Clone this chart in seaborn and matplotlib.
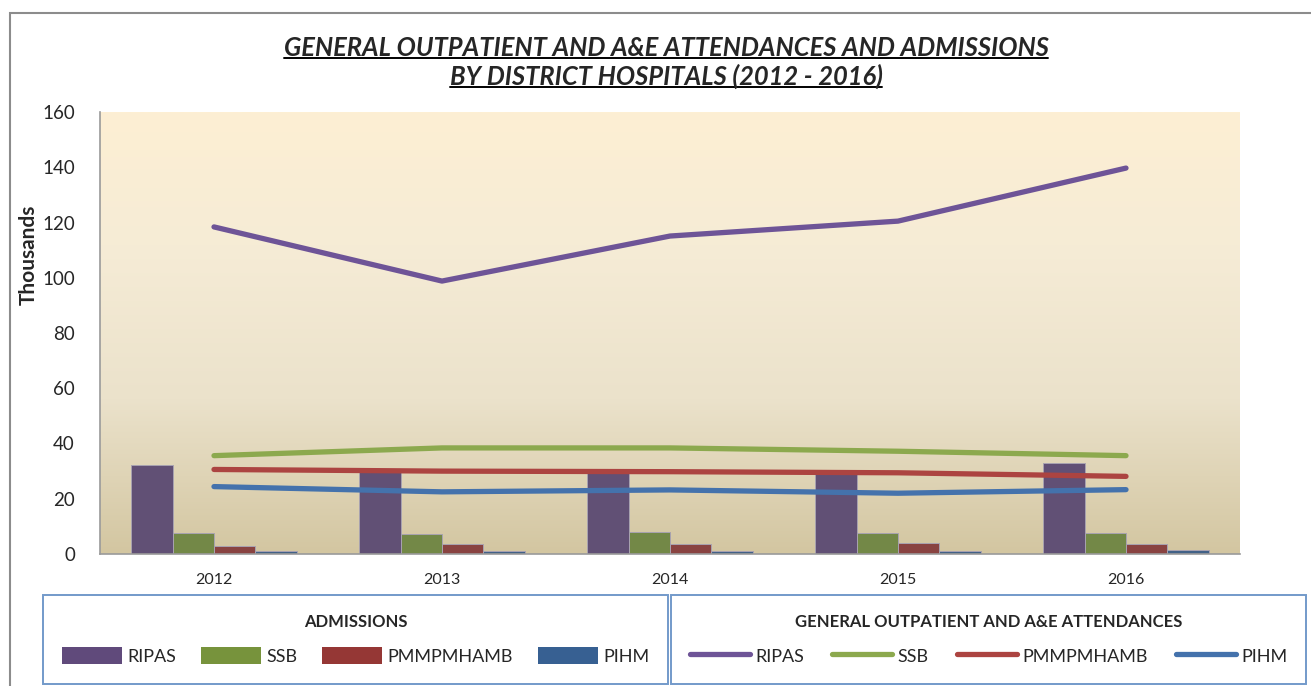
import numpy as np
import pandas as pd
import seaborn as sns
import matplotlib.pyplot as plt
from matplotlib.patches import Rectangle, Patch
from matplotlib.lines import Line2D
from matplotlib.colors import LinearSegmentedColormap

years = ["2012", "2013", "2014", "2015", "2016"]
hospitals = ["RIPAS", "SSB", "PMMPMHAMB", "PIHM"]

# admissions (thousands) - bars
adm_ripas = [32.2, 30.0, 30.0, 30.4, 32.8]
adm_ssb = [7.6, 7.1, 7.8, 7.6, 7.7]
adm_pmm = [2.9, 3.6, 3.6, 3.9, 3.6]
adm_pihm = [1.2, 1.0, 1.2, 1.1, 1.3]

# general outpatient and A&E attendances (thousands) - lines
att_ripas = [118.4, 98.8, 115.1, 120.5, 139.7]
att_ssb = [35.6, 38.4, 38.4, 37.2, 35.6]
att_pmm = [30.6, 30.0, 29.8, 29.4, 28.1]
att_pihm = [24.4, 22.5, 23.2, 22.0, 23.3]

bar_colors = ["#604a7b", "#77933c", "#953735", "#376092"]
line_colors = ["#6e5497", "#8ca94e", "#ac4441", "#4472ac"]

adm = pd.DataFrame({
    "year": years * 4,
    "hospital": np.repeat(hospitals, len(years)),
    "value": adm_ripas + adm_ssb + adm_pmm + adm_pihm,
})
att = pd.DataFrame({
    "pos": list(range(len(years))) * 4,
    "hospital": np.repeat(hospitals, len(years)),
    "value": att_ripas + att_ssb + att_pmm + att_pihm,
})

sns.set_theme(style="white")
plt.rcParams["font.family"] = ["Lato", "DejaVu Sans"]

W, H = 1311, 686
fig = plt.figure(figsize=(W / 100, H / 100), dpi=100)
ax = fig.add_axes([100 / W, 1 - 554 / H, 1140 / W, 442 / H])

# parchment gradient background
cmap = LinearSegmentedColormap.from_list(
    "bg", [(0, "#d3c6a1"), (0.35, "#ebe2cb"), (0.7, "#f6ecd6"), (1, "#fdefd3")])
grad = np.linspace(0, 1, 256).reshape(-1, 1)
ax.imshow(grad, cmap=cmap, aspect="auto", origin="lower",
          extent=[-0.5, 4.5, 0, 160], zorder=0)

sns.barplot(data=adm, x="year", y="value", hue="hospital", palette=bar_colors,
            width=0.728, gap=0, edgecolor="#a8a2b0", linewidth=0.7,
            legend=False, ax=ax, zorder=2)
sns.lineplot(data=att, x="pos", y="value", hue="hospital", palette=line_colors,
             linewidth=3.8, solid_capstyle="round", legend=False, ax=ax, zorder=3)

ax.set_xlim(-0.5, 4.5)
ax.set_ylim(0, 160)
ax.set_yticks(range(0, 161, 20))
ax.set_xticks(range(len(years)))
ax.set_xticklabels(years)
ax.tick_params(axis="y", labelsize=13.5, length=0, pad=18)
ax.tick_params(axis="x", labelsize=11.5, length=0, pad=14)
ax.set_xlabel("")
ax.set_ylabel("Thousands", fontsize=15, fontweight="bold")
ax.yaxis.set_label_coords(-61 / 1140, (554 - 255) / 442)
for s in ["top", "right"]:
    ax.spines[s].set_visible(False)
for s in ["left", "bottom"]:
    ax.spines[s].set_color("#9a9a9a")
    ax.spines[s].set_linewidth(1.2)

# outer frame
fig.patches.append(Rectangle((10 / W, -0.2), 1.2, 1.2 - 13 / H, transform=fig.transFigure,
                             fill=False, edgecolor="#8c8c8c", linewidth=1.5))

# titles (underlined)
t1 = fig.text(666 / W, 1 - 48 / H, "GENERAL OUTPATIENT AND A&E ATTENDANCES AND ADMISSIONS",
              ha="center", va="center", fontsize=18.4, fontweight="bold", style="italic")
t2 = fig.text(666 / W, 1 - 76 / H, "BY DISTRICT HOSPITALS (2012 - 2016)",
              ha="center", va="center", fontsize=18.4, fontweight="bold", style="italic")

# legends
bar_handles = [Patch(facecolor=c, edgecolor="none") for c in bar_colors]
line_handles = [Line2D([0], [0], color=c, linewidth=3.8, solid_capstyle="round") for c in line_colors]
leg_kw = dict(ncol=4, mode="expand", loc="center", fancybox=False, handlelength=3.3,
              handleheight=1.1, handletextpad=0.3, fontsize=13, title_fontsize=12,
              borderaxespad=0, borderpad=1.05, labelspacing=0.5)
leg1 = fig.legend(bar_handles, hospitals, title="ADMISSIONS",
                  bbox_to_anchor=(43 / W, 1 - 682 / H, 625 / W, 85 / H), **leg_kw)
leg2 = fig.legend(line_handles, hospitals, title="GENERAL OUTPATIENT AND A&E ATTENDANCES",
                  bbox_to_anchor=(671 / W, 1 - 682 / H, 635 / W, 85 / H), **leg_kw)
for lg in (leg1, leg2):
    lg.get_frame().set_edgecolor("#4f81bd")
    lg.get_frame().set_linewidth(1.4)
    lg.get_title().set_fontweight("bold")
    lg._legend_box.sep = 12

fig.canvas.draw()
r = fig.canvas.get_renderer()
for t in (t1, t2):
    bb = t.get_window_extent(r)
    y = bb.y0 + 2
    fig.add_artist(Line2D([bb.x0 / W, bb.x1 / W], [y / H, y / H], transform=fig.transFigure,
                          color="black", linewidth=1.4))

fig.savefig("out.png", dpi=100)
